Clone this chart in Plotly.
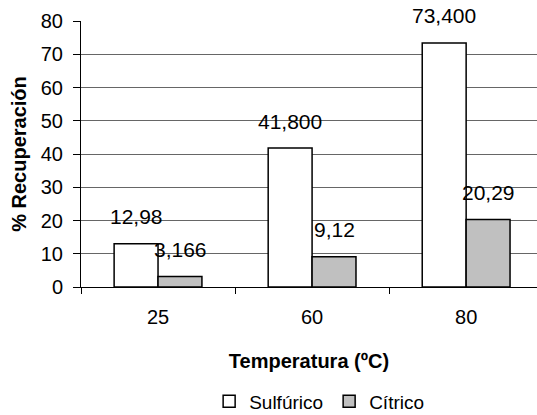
import plotly.graph_objects as go

categories = ["25", "60", "80"]
sulfurico = [12.98, 41.8, 73.4]
citrico = [3.166, 9.12, 20.29]
sulfurico_labels = ["12,98", "41,800", "73,400"]
citrico_labels = ["3,166", "9,12", "20,29"]
y_ticks = [0, 10, 20, 30, 40, 50, 60, 70, 80]

FONT = "Liberation Sans, Arial, sans-serif"

fig = go.Figure()
fig.add_trace(go.Bar(
    name="Sulfúrico", x=categories, y=sulfurico,
    marker=dict(color="white", line=dict(color="black", width=1.5)),
))
fig.add_trace(go.Bar(
    name="Cítrico", x=categories, y=citrico,
    marker=dict(color="#c0c0c0", line=dict(color="black", width=1.5)),
))

annotations = []
for i, (v, t) in enumerate(zip(sulfurico, sulfurico_labels)):
    annotations.append(dict(x=i, y=v, xref="x", yref="y", text=t, showarrow=False,
                            xshift=-22, yshift=27, yanchor="middle",
                            font=dict(size=21, color="black", family=FONT)))
for i, (v, t) in enumerate(zip(citrico, citrico_labels)):
    annotations.append(dict(x=i, y=v, xref="x", yref="y", text=t, showarrow=False,
                            xshift=22, yshift=27, yanchor="middle",
                            font=dict(size=21, color="black", family=FONT)))

fig.update_layout(
    width=537, height=415,
    margin=dict(l=81, r=0, t=21, b=128, autoexpand=False),
    paper_bgcolor="white", plot_bgcolor="white",
    font=dict(family=FONT, size=20, color="black"),
    barmode="group", bargap=0.43, bargroupgap=0,
    showlegend=True,
    legend=dict(orientation="h", x=0.281, xanchor="left", y=-0.43, yanchor="middle",
                font=dict(size=19, family=FONT), itemwidth=30, tracegroupgap=0,
                entrywidth=75, entrywidthmode="pixels",
                bgcolor="rgba(0,0,0,0)"),
    annotations=annotations,
)
fig.update_xaxes(
    type="category", range=[-0.5, 2.46],
    showline=True, linecolor="black", linewidth=1,
    ticks="outside", tickson="boundaries", ticklen=6, tickcolor="black",
    ticklabelstandoff=12,
    tickfont=dict(size=20, family=FONT),
    title=dict(text="<b>Temperatura (ºC)</b>", font=dict(size=20, family=FONT), standoff=26),
    showgrid=False,
)
fig.update_yaxes(
    range=[0, 80], tickvals=y_ticks,
    showline=True, linecolor="black", linewidth=1,
    ticks="outside", ticklen=7, tickcolor="black",
    ticklabelstandoff=6,
    tickfont=dict(size=20, family=FONT),
    showgrid=True, gridcolor="#666666", gridwidth=1,
    zeroline=False,
    title=dict(text="<b>% Recuperación</b>", font=dict(size=20, family=FONT), standoff=8),
)

fig.write_html("out.html")
